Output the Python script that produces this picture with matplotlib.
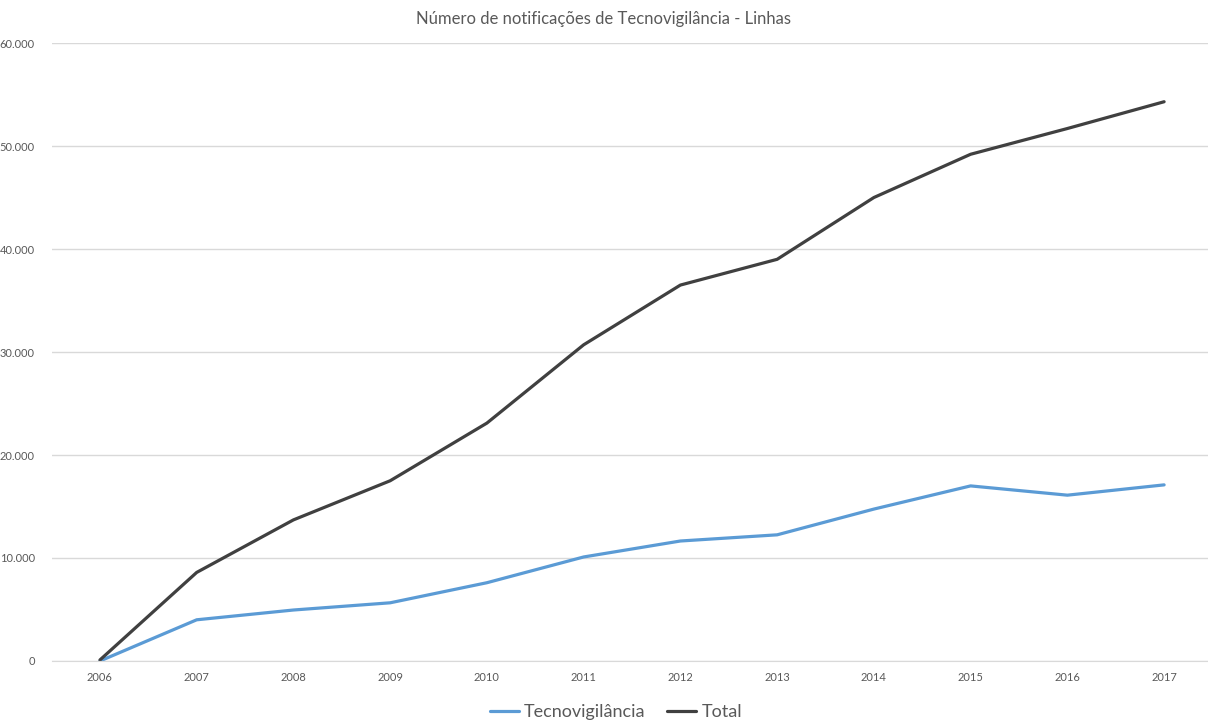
import matplotlib
matplotlib.use('Agg')
import matplotlib.pyplot as plt
from matplotlib.ticker import FuncFormatter

plt.rcParams['font.family'] = ['Lato', 'DejaVu Sans']

anos = ['2006', '2007', '2008', '2009', '2010', '2011',
        '2012', '2013', '2014', '2015', '2016', '2017']
tecnovigilancia = [0, 4000, 4950, 5650, 7600, 10100,
                   11650, 12250, 14750, 17000, 16100, 17100]
total = [100, 8600, 13700, 17500, 23100, 30700,
         36500, 39000, 45000, 49200, 51700, 54300]

fig = plt.figure(figsize=(12.08, 7.22), dpi=100)
ax = fig.add_axes([0.0427, 0.0845, 0.957, 0.8559])

x = range(len(anos))
ax.plot(x, tecnovigilancia, color='#5B9BD5', linewidth=2.3, label='Tecnovigilância',
        solid_capstyle='round')
ax.plot(x, total, color='#404040', linewidth=2.3, label='Total', solid_capstyle='round')

ax.set_xlim(-0.5, len(anos) - 0.55)
ax.set_ylim(0, 60000)
ax.set_yticks(range(0, 60001, 10000))
ax.yaxis.set_major_formatter(FuncFormatter(lambda v, p: f'{int(v):,}'.replace(',', '.')))
ax.set_xticks(list(x))
ax.set_xticklabels(anos)

ax.grid(axis='y', color='#D9D9D9', linewidth=1)
ax.set_axisbelow(True)
for s in ['top', 'right', 'left']:
    ax.spines[s].set_visible(False)
ax.spines['bottom'].set_color('#D9D9D9')
ax.tick_params(length=0, labelsize=8, labelcolor='#595959')
ax.tick_params(axis='x', pad=8)
ax.tick_params(axis='y', pad=12)

fig.suptitle('Número de notificações de Tecnovigilância - Linhas', y=0.985,
             fontsize=12, color='#595959')

fig.legend(loc='lower center', bbox_to_anchor=(0.51, -0.02), ncol=2, frameon=False,
           fontsize=13, handlelength=1.6, handletextpad=0.3, columnspacing=1.2,
           labelcolor='#595959')

fig.savefig('out.png', dpi=100)
